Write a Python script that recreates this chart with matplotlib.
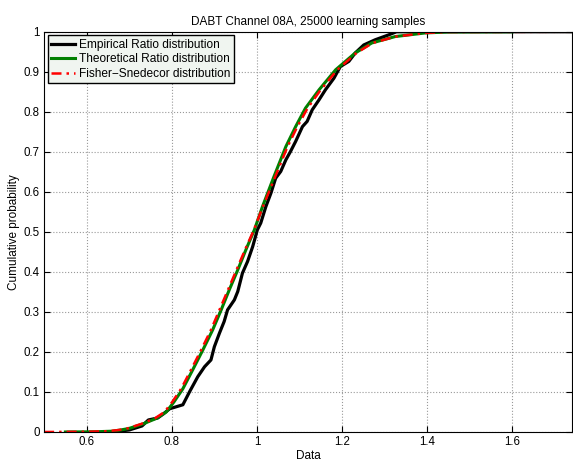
import matplotlib
matplotlib.use('Agg')
from matplotlib import pyplot as plt

plt.rcParams['font.family'] = ['Liberation Sans', 'DejaVu Sans']

# values
emp_x = [0.66, 0.70, 0.73, 0.745, 0.767, 0.78, 0.795, 0.826, 0.842, 0.861,
         0.877, 0.892, 0.900, 0.912, 0.923, 0.931, 0.947, 0.955, 0.966, 0.978,
         0.990, 1.001, 1.009, 1.021, 1.033, 1.044, 1.056, 1.068, 1.079, 1.091,
         1.107, 1.118, 1.130, 1.146, 1.161, 1.181, 1.196, 1.216, 1.231, 1.251,
         1.278, 1.309, 1.328, 1.75]
emp_y = [0.0, 0.005, 0.015, 0.03, 0.035, 0.045, 0.058, 0.068, 0.101, 0.138,
         0.163, 0.180, 0.213, 0.247, 0.276, 0.305, 0.330, 0.351, 0.397, 0.426,
         0.463, 0.505, 0.522, 0.563, 0.597, 0.634, 0.651, 0.680, 0.701, 0.726,
         0.763, 0.776, 0.805, 0.830, 0.855, 0.884, 0.913, 0.926, 0.947, 0.967,
         0.980, 0.992, 1.0, 1.0]

theo_x = [0.55, 0.62, 0.66, 0.68, 0.70, 0.732, 0.764, 0.787, 0.805, 0.826,
          0.849, 0.873, 0.896, 0.916, 0.935, 0.955, 0.974, 0.994, 1.013, 1.040,
          1.068, 1.091, 1.114, 1.146, 1.185, 1.231, 1.270, 1.325, 1.395, 1.45,
          1.60]
theo_y = [0.0, 0.0005, 0.002, 0.005, 0.009, 0.02, 0.034, 0.05, 0.075, 0.108,
          0.155, 0.205, 0.255, 0.305, 0.355, 0.405, 0.455, 0.505, 0.563, 0.638,
          0.713, 0.763, 0.809, 0.855, 0.905, 0.947, 0.972, 0.988, 0.997, 0.9995,
          1.0]

fish_x = [0.50, 0.60, 0.65, 0.676, 0.696, 0.728, 0.760, 0.783, 0.801, 0.822,
          0.845, 0.869, 0.892, 0.912, 0.932, 0.952, 0.972, 0.993, 1.014, 1.043,
          1.072, 1.095, 1.119, 1.150, 1.189, 1.234, 1.272, 1.326, 1.395, 1.45,
          1.74]
fish_y = theo_y

x_ticks = [0.6, 0.8, 1.0, 1.2, 1.4, 1.6]
x_labels = ['0.6', '0.8', '1', '1.2', '1.4', '1.6']
y_ticks = [0.0, 0.1, 0.2, 0.3, 0.4, 0.5, 0.6, 0.7, 0.8, 0.9, 1.0]
y_labels = ['0', '0.1', '0.2', '0.3', '0.4', '0.5', '0.6', '0.7', '0.8', '0.9', '1']

fig = plt.figure(figsize=(5.73, 4.67), dpi=100)
ax = fig.add_axes([0.077, 0.075, 0.921, 0.857])

ax.plot(emp_x, emp_y, color='black', lw=2.3, label='Empirical Ratio distribution')
ax.plot(theo_x, theo_y, color='#008000', lw=2.2, label='Theoretical Ratio distribution')
ax.plot(fish_x, fish_y, color='red', lw=1.8, ls='-.', dashes=(4, 2, 1, 2),
        label='Fisher\u2212Snedecor distribution')

ax.set_xlim(0.5, 1.74)
ax.set_ylim(0, 1)
ax.set_xticks(x_ticks)
ax.set_xticklabels(x_labels)
ax.set_yticks(y_ticks)
ax.set_yticklabels(y_labels)
ax.tick_params(direction='in', top=True, right=True, labelsize=8.3, length=4, pad=3)
ax.grid(True, ls=':', color='#999999', lw=0.8)

ax.set_title('DABT Channel 08A, 25000 learning samples', fontsize=8.5, pad=5)
ax.set_xlabel('Data', fontsize=8.5, labelpad=1)
ax.set_ylabel('Cumulative probability', fontsize=8.5, labelpad=3)

leg = ax.legend(loc='upper left', fontsize=8.6, handlelength=2.0, handletextpad=0.3,
                borderpad=0.3, labelspacing=0.2, borderaxespad=0.3,
                fancybox=False, framealpha=1)
leg.get_frame().set_facecolor('#f0f5f0')
leg.get_frame().set_edgecolor('black')
leg.get_frame().set_linewidth(1.0)

fig.savefig('out.png', dpi=100)
